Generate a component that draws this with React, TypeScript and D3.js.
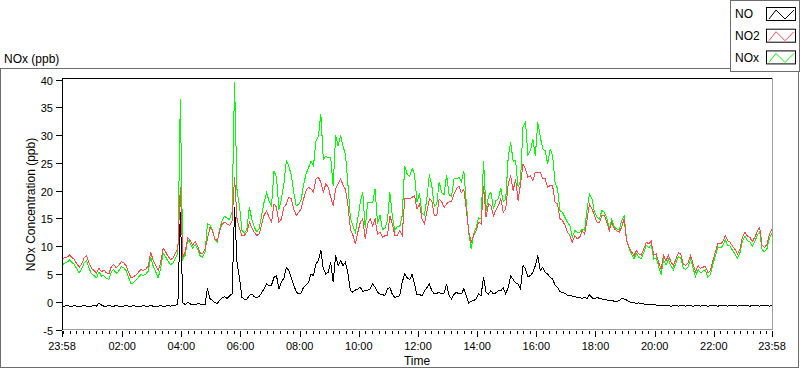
import React from 'react';
import * as d3 from 'd3';

// sample interval (minutes) starting at 23:58
const STEP_MIN = 5;

const NO2 = [
  7.5, 7.9, 8.0, 8.4, 8.0, 7.6, 6.8, 6.2, 6.8, 7.9,
  8.3, 6.9, 6.0, 5.6, 5.2, 6.0, 5.4, 5.7, 5.2, 5.0,
  6.3, 6.7, 6.1, 6.5, 7.2, 7.0, 6.5, 5.3, 4.3, 4.5,
  4.8, 5.3, 5.8, 5.6, 5.9, 6.4, 8.9, 7.4, 6.5, 5.6,
  7.0, 9.6, 9.0, 8.2, 7.6, 7.8, 8.7, 9.5, 20.6, 8.0,
  9.0, 11.5, 11.0, 10.2, 10.8, 10.0, 8.8, 8.6, 9.5, 11.3,
  13.4, 12.8, 11.3, 11.0, 12.8, 14.0, 14.3, 14.0, 13.7, 14.6,
  22.4, 14.9, 13.1, 11.9, 12.0, 12.5, 14.3, 13.4, 12.5, 11.9,
  12.2, 14.0, 15.6, 16.4, 15.2, 14.3, 17.6, 17.0, 14.3, 14.9,
  17.0, 17.6, 18.8, 18.5, 16.7, 15.5, 16.1, 16.7, 18.5, 20.0,
  20.6, 20.3, 19.7, 22.1, 22.4, 21.5, 19.7, 21.2, 20.6, 18.8,
  17.3, 20.3, 21.2, 22.1, 21.0, 20.2, 17.3, 13.0, 12.0, 10.4,
  12.5, 14.3, 14.9, 11.3, 14.0, 14.9, 13.7, 14.9, 12.2, 12.5,
  11.6, 11.9, 11.9, 15.5, 14.0, 12.0, 12.0, 12.8, 11.9, 18.5,
  18.6, 18.5, 18.8, 19.1, 16.7, 17.6, 14.9, 14.0, 16.1, 18.5,
  18.2, 15.5, 15.5, 18.5, 18.0, 17.0, 17.6, 18.0, 18.0, 19.4,
  20.3, 20.8, 19.6, 20.2, 16.7, 12.5, 10.7, 12.0, 12.8, 14.3,
  14.0, 20.9, 15.2, 17.6, 17.3, 15.5, 16.4, 17.3, 18.5, 16.1,
  16.7, 21.2, 22.7, 20.0, 22.1, 18.2, 21.2, 24.8, 23.9, 22.4,
  22.7, 21.8, 23.3, 23.3, 23.3, 22.1, 22.1, 20.6, 20.9, 20.9,
  17.9, 17.6, 15.0, 14.6, 13.8, 12.6, 11.9, 10.7, 11.9, 11.3,
  11.6, 12.8, 12.2, 14.9, 17.6, 16.7, 15.5, 14.3, 14.3, 15.5,
  15.5, 14.3, 12.8, 14.3, 13.1, 12.8, 12.5, 13.4, 14.9, 11.0,
  9.8, 9.0, 8.3, 9.2, 8.6, 8.4, 9.5, 10.7, 10.4, 10.9,
  8.4, 8.6, 7.1, 5.9, 8.3, 7.4, 8.3, 7.2, 6.5, 7.6,
  8.8, 8.6, 6.8, 6.5, 7.0, 8.3, 6.8, 5.4, 6.5, 6.0,
  6.2, 6.4, 5.2, 5.6, 7.4, 8.9, 10.4, 10.4, 10.7, 11.9,
  11.0, 10.7, 10.0, 9.4, 8.6, 9.5, 11.6, 12.5, 11.8, 11.6,
  10.8, 11.6, 12.6, 13.4, 10.1, 9.8, 10.4, 12.2, 13.1,
];

const NOX = [
  6.6, 6.9, 7.1, 7.5, 7.1, 6.7, 5.9, 5.2, 5.9, 7.0,
  7.4, 6.0, 5.0, 4.7, 4.3, 5.4, 4.6, 4.7, 4.2, 4.0,
  5.4, 5.8, 5.1, 5.5, 6.3, 6.1, 5.6, 4.4, 3.2, 3.4,
  3.9, 4.4, 4.9, 4.7, 5.0, 5.5, 8.0, 6.4, 5.4, 4.3,
  6.0, 8.7, 8.1, 7.3, 6.7, 6.9, 7.8, 8.8, 36.5, 7.6,
  8.4, 11.2, 10.5, 9.6, 10.3, 9.5, 8.3, 8.0, 8.9, 14.0,
  13.9, 12.9, 11.2, 10.8, 13.2, 14.7, 15.4, 15.0, 14.8, 16.2,
  39.5, 20.0, 17.3, 12.8, 12.4, 13.0, 17.0, 14.8, 13.4, 12.6,
  13.2, 15.6, 18.0, 19.6, 18.1, 17.3, 23.5, 22.5, 16.6, 18.5,
  21.2, 25.4, 24.4, 22.8, 19.7, 17.3, 17.5, 18.3, 21.1, 23.0,
  24.1, 25.3, 24.4, 28.9, 29.8, 33.8, 25.6, 26.2, 25.9, 25.9,
  20.8, 30.0, 28.0, 30.0, 28.0, 26.5, 21.0, 15.0, 13.7, 12.5,
  15.0, 17.9, 19.7, 13.2, 17.9, 17.9, 17.8, 20.3, 14.0, 15.6,
  13.0, 13.2, 14.5, 19.7, 15.4, 12.9, 13.5, 13.5, 15.5, 24.4,
  23.0, 22.5, 24.0, 23.0, 17.9, 19.5, 16.0, 15.6, 18.5, 22.9,
  20.9, 17.2, 17.5, 21.6, 19.6, 19.3, 22.8, 19.3, 18.9, 22.1,
  22.1, 22.4, 21.6, 23.6, 17.9, 12.3, 9.5, 12.3, 13.4, 15.1,
  14.9, 25.4, 16.4, 19.1, 19.7, 16.7, 18.2, 18.5, 20.5, 18.0,
  18.5, 26.0, 28.7, 25.3, 25.4, 20.6, 21.8, 31.5, 32.3, 26.5,
  27.2, 29.3, 26.3, 32.3, 29.7, 27.5, 27.2, 24.8, 27.5, 26.3,
  21.5, 20.3, 16.4, 16.1, 15.2, 14.3, 13.7, 11.6, 12.8, 12.5,
  12.5, 13.1, 12.8, 16.7, 19.4, 18.5, 16.1, 15.2, 14.9, 16.4,
  16.1, 15.0, 13.2, 14.9, 13.5, 13.1, 13.0, 14.5, 15.5, 11.3,
  9.6, 8.6, 7.7, 8.7, 7.9, 7.8, 8.9, 10.1, 9.7, 10.3,
  7.7, 7.9, 6.4, 4.9, 7.6, 6.6, 7.6, 6.4, 5.8, 6.9,
  8.1, 7.9, 6.0, 5.8, 6.3, 7.6, 6.0, 4.5, 5.8, 5.2,
  5.5, 5.7, 4.4, 4.9, 6.7, 8.2, 9.7, 9.7, 10.0, 11.2,
  10.2, 10.0, 9.2, 8.6, 7.8, 8.8, 10.9, 11.8, 11.0, 10.8,
  10.0, 10.8, 11.9, 12.6, 9.3, 9.0, 9.6, 11.5, 12.4,
];

const NO = [
  -0.8, -0.8, -0.7, -0.8, -0.8, -0.7, -0.8, -0.8, -0.8, -0.7,
  -0.8, -0.8, -0.8, -0.7, -0.8, -0.2, -0.6, -0.8, -0.8, -0.7,
  -0.8, -0.8, -0.7, -0.8, -0.8, -0.8, -0.7, -0.8, -0.8, -0.7,
  -0.8, -0.8, -0.8, -0.7, -0.8, -0.8, -0.7, -0.8, -0.8, -0.8,
  -0.7, -0.8, -0.8, -0.7, -0.8, -0.7, -0.6, -0.5, 16.1, -0.2,
  -0.5, -0.1, -0.4, -0.5, -0.5, -0.4, -0.4, -0.5, -0.6, 2.4,
  0.6, 0.2, -0.2, -0.3, 0.3, 0.7, 0.9, 0.6, 1.1, 1.4,
  17.0, 7.1, 4.2, 0.8, 0.4, 0.5, 1.1, 1.4, 0.9, 0.7,
  1.0, 1.6, 2.4, 3.2, 2.9, 3.0, 4.4, 4.7, 2.3, 3.6,
  4.2, 6.2, 5.6, 4.3, 3.0, 1.8, 1.4, 1.6, 2.6, 3.0,
  3.5, 5.0, 4.7, 6.8, 7.4, 9.3, 5.9, 5.0, 5.3, 7.1,
  3.5, 8.4, 6.5, 7.4, 6.5, 7.1, 5.0, 2.0, 1.7, 2.1,
  2.3, 2.6, 1.8, 2.0, 2.1, 2.3, 3.2, 2.6, 1.7, 1.4,
  1.3, 1.1, 2.3, 2.6, 1.3, 0.8, 0.9, 1.1, 3.5, 5.0,
  4.3, 4.0, 4.9, 3.2, 1.2, 1.3, 1.1, 1.9, 2.5, 3.2,
  2.0, 1.4, 1.5, 1.7, 1.4, 1.6, 3.2, 1.1, 0.5, 1.3,
  1.7, 1.4, 1.4, 2.3, 1.0, -0.3, 0.1, 0.2, 0.5, 1.4,
  1.1, 4.5, 1.7, 1.4, 2.0, 1.4, 1.6, 2.0, 2.0, 2.5,
  1.4, 2.6, 4.6, 4.0, 3.4, 3.2, 2.3, 6.5, 5.9, 4.5,
  4.7, 5.3, 6.5, 8.3, 5.6, 6.2, 5.3, 5.0, 4.4, 4.1,
  3.0, 2.6, 1.8, 1.7, 1.5, 1.2, 1.1, 1.0, 0.9, 0.8,
  0.8, 0.6, 0.8, 0.6, 1.3, 0.7, 0.5, 0.8, 0.6, 0.5,
  0.4, 0.3, 0.2, 0.2, 0.1, 0.0, 0.2, 0.6, 0.5, 0.3,
  0.0, -0.1, -0.2, -0.3, -0.2, -0.4, -0.4, -0.5, -0.5, -0.6,
  -0.5, -0.6, -0.6, -0.7, -0.6, -0.7, -0.7, -0.8, -0.7, -0.7,
  -0.8, -0.7, -0.7, -0.8, -0.7, -0.7, -0.8, -0.7, -0.7, -0.8,
  -0.7, -0.7, -0.8, -0.7, -0.7, -0.7, -0.8, -0.7, -0.7, -0.7,
  -0.8, -0.7, -0.7, -0.7, -0.8, -0.7, -0.7, -0.7, -0.7, -0.8,
  -0.7, -0.7, -0.7, -0.8, -0.7, -0.7, -0.7, -0.8, -0.7,
];

const SERIES_NAMES = ['NO', 'NO2', 'NOx'];
const SERIES_COLORS = ['#000000', '#ff4848', '#00ff00'];

const TIME_LABELS = ['23:58', '02:00', '04:00', '06:00', '08:00', '10:00', '12:00', '14:00', '16:00', '18:00', '20:00', '22:00', '23:58'];
const TIME_TICKS_MIN = [0, 122, 242, 362, 482, 602, 722, 842, 962, 1082, 1202, 1322, 1440];
const Y_TICKS = [-5, 0, 5, 10, 15, 20, 25, 30, 35, 40];

const FONT = '"Liberation Sans", Arial, sans-serif';

export default function App() {
  const W = 800;
  const H = 369;
  const left = 62;
  const right = 772;
  const top = 79.5;
  const bottom = 329.5;

  const x = d3.scaleLinear().domain([0, 1440]).range([left, right]);
  const y = d3.scaleLinear().domain([-5, 40]).range([bottom, top]);

  const mkLine = (arr: number[]) =>
    d3
      .line<number>()
      .x((_, i) => x(i * STEP_MIN))
      .y((v) => y(v))(arr) || '';

  // minor ticks every 800 s, aligned to midnight (t = 2 min)
  const minor: number[] = [];
  for (let t = 2; t <= 1440; t += 40 / 3) minor.push(t);

  const seriesData = [NO, NO2, NOX];
  const drawOrder = [2, 1, 0];

  const swatch = (yTop: number, color: string, key: string) => (
    <g key={key}>
      <rect x={766.5} y={yTop + 0.5} width={29} height={13} fill="#fff" stroke="#000" />
      <polyline
        points={`769,${yTop + 12} 776,${yTop + 3} 785,${yTop + 12} 794,${yTop + 3}`}
        fill="none"
        stroke={color}
        strokeWidth={1}
      />
    </g>
  );

  return (
    <svg
      width={W}
      height={H}
      style={{ position: 'absolute', left: 0, top: 0, background: '#fff' }}
      fontFamily={FONT}
    >
      <rect x={0} y={0} width={W} height={H} fill="#fff" />
      {/* outer chart frame */}
      <rect x={0.5} y={68.5} width={798} height={299} fill="none" stroke="#6d6d6d" />
      <text x={4} y={63} fontSize={12} fill="#000">NOx (ppb)</text>

      {/* plot area */}
      <line x1={left} x2={right} y1={78.5} y2={78.5} stroke="#000" />
      <line x1={right + 0.5} x2={right + 0.5} y1={78} y2={330} stroke="#a0a0a0" />
      <line x1={left} x2={right + 1} y1={329.5} y2={329.5} stroke="#a0a0a0" />
      <line x1={left + 0.5} x2={left + 0.5} y1={78} y2={330} stroke="#000" />

      <g clipPath="url(#clip)">
        {drawOrder.map((k) => (
          <path
            key={SERIES_NAMES[k]}
            d={mkLine(seriesData[k])}
            fill="none"
            stroke={SERIES_COLORS[k]}
            strokeWidth={1}
            shapeRendering="crispEdges"
          />
        ))}
      </g>
      <defs>
        <clipPath id="clip">
          <rect x={left + 1} y={79} width={right - left - 1} height={250} />
        </clipPath>
      </defs>

      {/* y axis */}
      {Y_TICKS.map((v) => (
        <g key={v}>
          <line x1={56} x2={62} y1={Math.round(y(v)) + 0.5} y2={Math.round(y(v)) + 0.5} stroke="#000" />
          <text x={53} y={Math.round(y(v)) + 4.5} fontSize={11} textAnchor="end" fill="#000">
            {v}
          </text>
        </g>
      ))}
      <text
        transform={`translate(35,${(top + bottom) / 2}) rotate(-90)`}
        fontSize={12}
        textAnchor="middle"
        fill="#000"
      >
        NOx Concentration (ppb)
      </text>

      {/* x axis */}
      {minor.map((t, i) => (
        <line
          key={'m' + i}
          x1={Math.round(x(t)) + 0.5}
          x2={Math.round(x(t)) + 0.5}
          y1={331}
          y2={334}
          stroke="#000"
        />
      ))}
      {TIME_TICKS_MIN.map((t, i) => (
        <g key={'M' + i}>
          <line x1={Math.round(x(t)) + 0.5} x2={Math.round(x(t)) + 0.5} y1={331} y2={337} stroke="#000" />
          <text x={x(t)} y={350} fontSize={11} textAnchor="middle" fill="#000">
            {TIME_LABELS[i]}
          </text>
        </g>
      ))}
      <text x={(left + right) / 2} y={365} fontSize={12} textAnchor="middle" fill="#000">
        Time
      </text>

      {/* legend */}
      <rect x={730.5} y={0.5} width={69} height={71} fill="#fff" stroke="#6d6d6d" />
      {SERIES_NAMES.map((name, i) => (
        <g key={name}>
          <text x={735} y={18 + i * 22} fontSize={12} fill="#000">
            {name}
          </text>
          {swatch(7 + i * 21.7, SERIES_COLORS[i], 's' + name)}
        </g>
      ))}
    </svg>
  );
}
